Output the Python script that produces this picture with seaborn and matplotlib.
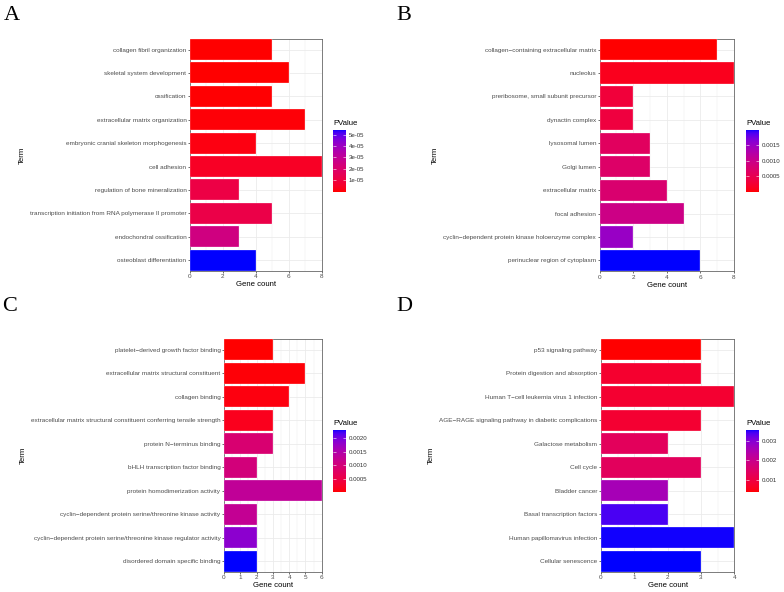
import numpy as np
import pandas as pd
import matplotlib
matplotlib.use('Agg')
import matplotlib.pyplot as plt
from matplotlib.colors import ListedColormap, Normalize
from matplotlib.ticker import MultipleLocator
import seaborn as sns

# panel A - GO BP
terms_a = ['collagen fibril organization', 'skeletal system development', 'ossification',
           'extracellular matrix organization', 'embryonic cranial skeleton morphogenesis',
           'cell adhesion', 'regulation of bone mineralization',
           'transcription initiation from RNA polymerase II promoter',
           'endochondral ossification', 'osteoblast differentiation']
counts_a = [5, 6, 5, 7, 4, 8, 3, 5, 3, 4]
pvals_a = [2e-9, 1e-7, 4e-7, 8e-7, 1.5e-6, 4.5e-6, 1.1e-5, 1.2e-5, 2.5e-5, 5.4e-5]

# panel B - GO CC
terms_b = ['collagen\u2212containing extracellular matrix', 'nucleolus',
           'preribosome, small subunit precursor', 'dynactin complex', 'lysosomal lumen',
           'Golgi lumen', 'extracellular matrix', 'focal adhesion',
           'cyclin\u2212dependent protein kinase holoenzyme complex',
           'perinuclear region of cytoplasm']
counts_b = [7, 8, 2, 2, 3, 3, 4, 5, 2, 6]
pvals_b = [1e-6, 1.2e-4, 3.2e-4, 3.6e-4, 6.2e-4, 7.0e-4, 7.6e-4, 9.6e-4, 1.5e-3, 1.97e-3]

# panel C - GO MF
terms_c = ['platelet\u2212derived growth factor binding',
           'extracellular matrix structural constituent', 'collagen binding',
           'extracellular matrix structural constituent conferring tensile strength',
           'protein N\u2212terminus binding', 'bHLH transcription factor binding',
           'protein homodimerization activity',
           'cyclin\u2212dependent protein serine/threonine kinase activity',
           'cyclin\u2212dependent protein serine/threonine kinase regulator activity',
           'disordered domain specific binding']
counts_c = [3, 5, 4, 3, 3, 2, 6, 2, 2, 2]
pvals_c = [1e-6, 3e-5, 6e-5, 1.4e-4, 9e-4, 1.0e-3, 1.3e-3, 1.25e-3, 1.85e-3, 2.3e-3]

# panel D - KEGG
terms_d = ['p53 signaling pathway', 'Protein digestion and absorption',
           'Human T\u2212cell leukemia virus 1 infection',
           'AGE\u2212RAGE signaling pathway in diabetic complications',
           'Galactose metabolism', 'Cell cycle', 'Bladder cancer',
           'Basal transcription factors', 'Human papillomavirus infection',
           'Cellular senescence']
counts_d = [3, 3, 4, 3, 2, 3, 2, 2, 4, 3]
pvals_d = [3.8e-4, 7.6e-4, 7.8e-4, 8.0e-4, 1.33e-3, 1.36e-3, 2.6e-3, 3.4e-3, 3.54e-3, 3.56e-3]

cbar_ticks_a = [1e-5, 2e-5, 3e-5, 4e-5, 5e-5]
cbar_labels_a = ['1e-05', '2e-05', '3e-05', '4e-05', '5e-05']
cbar_ticks_b = [0.0005, 0.0010, 0.0015]
cbar_labels_b = ['0.0005', '0.0010', '0.0015']
cbar_ticks_c = [0.0005, 0.0010, 0.0015, 0.0020]
cbar_labels_c = ['0.0005', '0.0010', '0.0015', '0.0020']
cbar_ticks_d = [0.001, 0.002, 0.003]
cbar_labels_d = ['0.001', '0.002', '0.003']


# red -> blue gradient interpolated in Lab, like ggplot's scale_fill_gradient
M = np.array([[0.4124, 0.3576, 0.1805], [0.2126, 0.7152, 0.0722], [0.0193, 0.1192, 0.9505]])
WHITE = np.array([0.95047, 1.0, 1.08883])


def to_lab(rgb):
    c = np.asarray(rgb, float)
    c = np.where(c <= 0.04045, c / 12.92, ((c + 0.055) / 1.055) ** 2.4)
    xyz = M @ c / WHITE
    d = 6 / 29
    f = np.where(xyz > d ** 3, np.cbrt(xyz), xyz / (3 * d * d) + 4 / 29)
    return np.array([116 * f[1] - 16, 500 * (f[0] - f[1]), 200 * (f[1] - f[2])])


def from_lab(lab):
    L, a, b = lab
    fy = (L + 16) / 116
    f = np.array([fy + a / 500, fy, fy - b / 200])
    d = 6 / 29
    xyz = np.where(f > d, f ** 3, 3 * d * d * (f - 4 / 29)) * WHITE
    c = np.clip(np.linalg.inv(M) @ xyz, 0, 1)
    c = np.where(c <= 0.0031308, 12.92 * c, 1.055 * c ** (1 / 2.4) - 0.055)
    return np.clip(c, 0, 1)


lab_lo, lab_hi = to_lab([1, 0, 0]), to_lab([0, 0, 1])
cmap = ListedColormap([from_lab(lab_lo + t * (lab_hi - lab_lo)) for t in np.linspace(0, 1, 256)])

plt.rcParams['font.family'] = ['Liberation Sans', 'DejaVu Sans']

fig = plt.figure(figsize=(7.84, 5.92), dpi=100)
W, H = 784, 592


def px_axes(x0, y0, x1, y1):
    return fig.add_axes([x0 / W, 1 - y1 / H, (x1 - x0) / W, (y1 - y0) / H])


def panel(terms, counts, pvals, xmax, major, minor, ax_box, cb_box, ticks, labels, letter, letter_xy):
    ax = px_axes(*ax_box)
    norm = Normalize(min(pvals), max(pvals))
    colors = [cmap(norm(p)) for p in pvals]
    df = pd.DataFrame({'Term': terms, 'Count': counts})
    sns.barplot(data=df, x='Count', y='Term', hue='Term', palette=colors, legend=False,
                width=0.9, saturation=1, orient='h', ax=ax, edgecolor='#ffffff', linewidth=0.2,
                zorder=3)
    ax.set_xlim(0, xmax)
    ax.set_ylim(len(terms) - 0.55, -0.45)
    ax.xaxis.set_major_locator(MultipleLocator(major))
    ax.xaxis.set_minor_locator(MultipleLocator(minor))
    ax.grid(True, which='major', color='#EBEBEB', linewidth=0.6, zorder=0)
    ax.grid(True, which='minor', axis='x', color='#EBEBEB', linewidth=0.35, zorder=0)
    ax.set_axisbelow(True)
    for s in ax.spines.values():
        s.set_color('#666666')
        s.set_linewidth(0.6)
    ax.tick_params(which='major', length=1.6, width=0.5, color='#333333',
                   labelsize=4.6, labelcolor='#4D4D4D', pad=1)
    ax.tick_params(which='minor', length=0)
    ax.set_xlabel('Gene count', fontsize=5.6, labelpad=1.5)
    ax.set_ylabel('Term', fontsize=5.6, labelpad=3)

    cax = px_axes(*cb_box)
    cb = fig.colorbar(plt.cm.ScalarMappable(norm=norm, cmap=cmap), cax=cax)
    cb.outline.set_visible(False)
    cb.set_ticks(ticks)
    cb.set_ticklabels(labels)
    cax.tick_params(left=True, right=True, direction='in', length=2, width=0.4, color='white',
                    labelsize=4.4, labelcolor='#333333', pad=2)
    fig.text(cb_box[0] / W, 1 - (cb_box[1] - 3) / H, 'PValue', fontsize=5.6, va='bottom', ha='left')
    fig.text(letter_xy[0] / W, 1 - letter_xy[1] / H, letter, fontsize=16,
             family='Liberation Serif', va='baseline', ha='left')


panel(terms_a, counts_a, pvals_a, 8, 2, 1, (190, 39, 321.7, 270.7), (333, 130, 346, 191.7),
      cbar_ticks_a, cbar_labels_a, 'A', (4, 20))
panel(terms_b, counts_b, pvals_b, 8, 2, 1, (599.7, 39, 734, 271), (746, 130, 758.7, 192),
      cbar_ticks_b, cbar_labels_b, 'B', (396, 20))
panel(terms_c, counts_c, pvals_c, 6, 1, 0.5, (224, 339.3, 321.7, 571.7), (333, 430, 346, 492),
      cbar_ticks_c, cbar_labels_c, 'C', (2, 311))
panel(terms_d, counts_d, pvals_d, 4, 1, 0.5, (601, 339.3, 734.3, 571.7), (746, 430, 758.7, 492),
      cbar_ticks_d, cbar_labels_d, 'D', (396, 311))

fig.savefig('out.png', dpi=100)
